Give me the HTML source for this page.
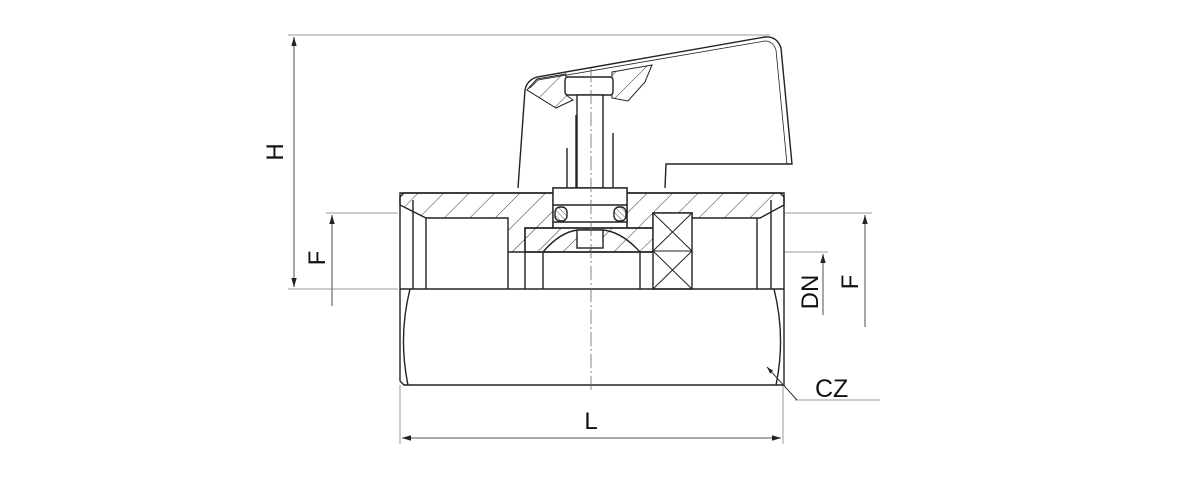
<!DOCTYPE html>
<html><head><meta charset="utf-8"><style>
html,body{margin:0;padding:0;background:#fff;}
svg{display:block;}
text{font-family:"Liberation Sans",sans-serif;fill:#111;}
</style></head><body>
<svg width="1200" height="500" viewBox="0 0 1200 500" xmlns="http://www.w3.org/2000/svg">
<defs>
<pattern id="h1" patternUnits="userSpaceOnUse" width="18" height="18" patternTransform="rotate(45)"><line x1="0" y1="0" x2="0" y2="18" stroke="#333" stroke-width="1"/></pattern>
<pattern id="h2" patternUnits="userSpaceOnUse" width="4" height="4" patternTransform="rotate(-45)"><line x1="0" y1="0" x2="0" y2="4" stroke="#333" stroke-width="0.8"/></pattern>
<marker id="a" viewBox="0 0 10 10" refX="10" refY="5" markerWidth="7" markerHeight="7" orient="auto-start-reverse"><path d="M0,2 L10,5 L0,8z" fill="#222"/></marker>
</defs>
<g stroke="#999" stroke-width="1" fill="none">
<line x1="288" y1="35" x2="770" y2="35"/>
<line x1="288" y1="289" x2="398" y2="289"/>
<line x1="326" y1="213" x2="398" y2="213"/>
<line x1="780" y1="213" x2="872" y2="213"/>
<line x1="740" y1="252" x2="828" y2="252"/>
<line x1="783" y1="385" x2="783" y2="444"/>
<line x1="400" y1="385" x2="400" y2="444"/>
<line x1="795" y1="400" x2="880" y2="400"/>
</g>
<g stroke="#777" stroke-width="1.3" fill="none">
<line x1="294" y1="37" x2="294" y2="287" marker-start="url(#a)" marker-end="url(#a)"/>
<line x1="332" y1="215" x2="332" y2="306" marker-start="url(#a)"/>
<line x1="823" y1="254" x2="823" y2="315" marker-start="url(#a)"/>
<line x1="865" y1="215" x2="865" y2="327" marker-start="url(#a)"/>
<line x1="402" y1="438" x2="781" y2="438" marker-start="url(#a)" marker-end="url(#a)"/>
</g>
<!-- handle -->
<g stroke="#222" stroke-width="1.4" fill="none">
<path d="M518,188 L525,90 Q527,80 537,77 L765,37 Q777,36 781,48 L792,164 L666,164 L665,188"/>
<path d="M530,88 L538,80 L765,41 Q773,41 776,50 L787,164" stroke-width="0.8"/>
<polygon points="527,90 537,79 566,74 566,95 573,100 556,108" fill="url(#h1)" stroke-width="1"/>
<polygon points="612,72 652,65 645,82 628,101 612,98" fill="url(#h1)" stroke-width="1"/>
<rect x="565" y="77" width="48" height="18" rx="3" fill="#fff"/>
<rect x="577" y="95" width="26" height="93" fill="#fff"/>
<line x1="567" y1="148" x2="567" y2="190"/><line x1="576" y1="115" x2="576" y2="190"/><line x1="613" y1="133" x2="613" y2="190"/>
</g>
<!-- body -->
<g stroke="#222" stroke-width="1.4" fill="none">
<path d="M404,193 L780,193 L784,197 L784,385 L404,385 L400,381 L400,197z" fill="#fff"/>
<path d="M400,193 L784,193 L784,205 L760,218 L692,218 L692,213 L653,213 L653,228 L627,228 L627,188 L553,188 L553,228 L525,228 L525,252 L508,252 L508,218 L426,218 L400,205z" fill="url(#h1)"/>
<line x1="413" y1="200" x2="413" y2="289"/><line x1="426" y1="218" x2="426" y2="289"/>
<line x1="508" y1="252" x2="508" y2="289"/>
<line x1="771" y1="200" x2="771" y2="289"/><line x1="757" y1="218" x2="757" y2="289"/>
<rect x="553" y="188" width="74" height="40" fill="#fff"/>
<line x1="553" y1="205" x2="627" y2="205"/><line x1="553" y1="222" x2="627" y2="222"/>
<rect x="555" y="207" width="12" height="14" rx="5" fill="url(#h2)"/>
<rect x="614" y="207" width="12" height="14" rx="5" fill="url(#h2)"/>
<path d="M525,228 L653,228 L653,252 L525,252z" fill="url(#h1)"/>
<path d="M543,252 Q560,232 578,230 L603,230 Q622,232 640,252" fill="none"/>
<rect x="577" y="230" width="26" height="18" fill="#fff"/>
<line x1="525" y1="252" x2="653" y2="252"/>
<line x1="543" y1="252" x2="543" y2="289"/><line x1="640" y1="252" x2="640" y2="289"/>
<line x1="525" y1="252" x2="525" y2="289"/>
<rect x="653" y="213" width="39" height="76" fill="#fff"/>
<path d="M653,213 L692,251 M692,213 L653,251 M653,251 L692,289 M692,251 L653,289 M653,251 L692,251" stroke-width="1"/>
<line x1="400" y1="289" x2="784" y2="289"/>
<path d="M410,289 Q398,337 408,385"/>
<path d="M774,289 Q786,337 776,385"/>
</g>
<line x1="591" y1="68" x2="591" y2="392" stroke="#666" stroke-width="0.8" stroke-dasharray="14,3,2,3"/>
<line x1="797" y1="400" x2="767" y2="367" stroke="#333" stroke-width="1" marker-end="url(#a)"/>
<text x="0" y="0" font-size="24" transform="translate(283,152) rotate(-90)" text-anchor="middle">H</text>
<text x="0" y="0" font-size="24" transform="translate(325,258) rotate(-90)" text-anchor="middle">F</text>
<text x="0" y="0" font-size="24" transform="translate(818,292) rotate(-90)" text-anchor="middle">DN</text>
<text x="0" y="0" font-size="24" transform="translate(858,282) rotate(-90)" text-anchor="middle">F</text>
<text x="815" y="397" font-size="25">CZ</text>
<text x="591" y="429" font-size="24" text-anchor="middle">L</text>
</svg>
</body></html>
